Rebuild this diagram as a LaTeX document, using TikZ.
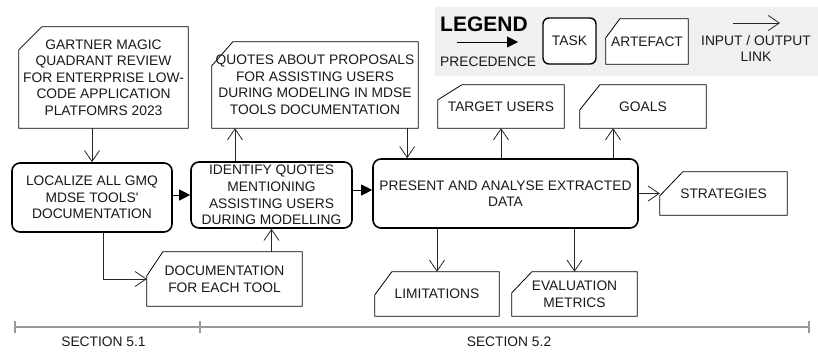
\documentclass[tikz,border=0pt]{standalone}
\usepackage{fontspec}
\setmainfont{Liberation Sans}
\usetikzlibrary{arrows.meta, positioning, calc}
\pgfdeclarelayer{background}
\pgfsetlayers{background,main}

\begin{document}
\begin{tikzpicture}[x=1pt, y=-1pt,
    every node/.style={font=\fontsize{13.8}{16.5}\selectfont, align=center, inner sep=0pt, text=black!90},
    task/.style={rectangle, draw, fill=white, line width=1.6pt, rounded corners=8pt},
    artefact/.style={rectangle},
    prec/.style={-{Triangle[length=11pt,width=11pt]}, line width=0.9pt},
    io/.style={-{Straight Barb[length=11pt,width=15pt]}, line width=0.8pt, black!85}]
    \useasboundingbox (0,0) rectangle (818,352);

    \node [artefact, minimum width=169pt, minimum height=101pt] (gartner) at (103.5,77.5) {GARTNER MAGIC\\QUADRANT REVIEW\\FOR ENTERPRISE LOW-\\CODE APPLICATION\\PLATFOMRS 2023};
    \node [artefact, minimum width=206pt, minimum height=86pt] (quotes) at (315,85) {QUOTES ABOUT PROPOSALS\\FOR ASSISTING USERS\\DURING MODELING IN MDSE\\TOOLS DOCUMENTATION};
    \node [task, minimum width=160pt, minimum height=69pt] (localize) at (92,197.5) {LOCALIZE ALL GMQ\\MDSE TOOLS\textquotesingle\\DOCUMENTATION};
    \node [task, minimum width=161pt, minimum height=66pt] (identify) at (271.5,195) {IDENTIFY QUOTES\\MENTIONING\\ASSISTING USERS\\DURING MODELLING};
    \node [task, minimum width=265pt, minimum height=69pt] (present) at (505.5,193.5) {PRESENT AND ANALYSE EXTRACTED\\DATA};
    \node [artefact, minimum width=155pt, minimum height=54pt, text depth=-9pt] (docs) at (224.5,279) {DOCUMENTATION\\FOR EACH TOOL};
    \node [artefact, minimum width=126pt, minimum height=43pt] (target) at (501,106.5) {TARGET USERS};
    \node [artefact, minimum width=126pt, minimum height=43pt] (goals) at (643,106.5) {GOALS};
    \node [artefact, minimum width=127pt, minimum height=43pt] (strategies) at (723.5,193.5) {STRATEGIES};
    \node [artefact, minimum width=124pt, minimum height=44pt] (limits) at (437,294) {LIMITATIONS};
    \node [artefact, minimum width=125pt, minimum height=44pt] (metrics) at (574.5,294) {EVALUATION\\METRICS};

    \node [font=\fontsize{21}{24}\selectfont\bfseries, text=black, anchor=west] (legend) at (440,24) {LEGEND};
    \node [anchor=west] (preclabel) at (440,62) {PRECEDENCE};
    \node [task, line width=1.4pt, rounded corners=6pt, minimum width=53pt, minimum height=46pt] (keytask) at (569.5,41) {TASK};
    \node [artefact, minimum width=82pt, minimum height=45pt] (keyart) at (647,41.5) {ARTEFACT};
    \node (iolabel) at (756,48.5) {INPUT / OUTPUT\\LINK};
    \coordinate (precA) at (457,42);
    \coordinate (precB) at (518,42);
    \coordinate (ioA) at (733,23);
    \coordinate (ioB) at (780,23);

    \begin{pgfonlayer}{background}
        \fill [black!6] (435,7) rectangle (818,76);
        \foreach \n/\cx/\cy in {gartner/23/23, quotes/21/24, docs/16/24, target/24/15, goals/20/25, strategies/23/24, limits/17/23, metrics/20/21, keyart/14/19}
            \filldraw [fill=white, line width=0.8pt] ([yshift=-\cy pt]\n.north west) -- ([xshift=\cx pt]\n.north west) -- (\n.north east) -- (\n.south east) -- (\n.south west) -- cycle;
    \end{pgfonlayer}

    \draw [prec] (precA) -- (precB);
    \draw [io] (ioA) -- (ioB);

    \draw [io] (gartner.south -| localize.north) -- (localize.north);
    \draw [prec] (localize.east |- identify.east) -- (identify.west);
    \draw [prec] ([yshift=5pt]identify.east) -- ([yshift=5pt]identify.east -| present.west);
    \draw [io] ([xshift=-36.5pt]identify.north) -- ([xshift=-36.5pt]identify.north |- quotes.south);
    \draw [io] ([xshift=-11pt]quotes.south east) -- ([xshift=-11pt]quotes.south east |- present.north);
    \draw [io] ([xshift=11pt]localize.south) |- (docs.west);
    \draw [io] (docs.north -| identify.south) -- (identify.south);
    \draw [io] (present.north -| target.south) -- (target.south);
    \draw [io] ([xshift=-30pt]goals.south |- present.north) -- ([xshift=-30pt]goals.south);
    \draw [io] (present.east) -- (strategies.west);
    \draw [io] (present.south -| limits.north) -- (limits.north);
    \draw [io] (present.south -| metrics.north) -- (metrics.north);

    \coordinate (s0) at (15,327);
    \coordinate (s1) at (200,327);
    \coordinate (s2) at (809,327);
    \draw [black!40, line width=1.3pt] (s0) -- (s2);
    \foreach \c in {s0, s1, s2}
        \draw [black!40, line width=1.3pt] ([yshift=6pt]\c) -- ([yshift=-6pt]\c);
    \node (sec1) at (103.5,342) {SECTION 5.1};
    \node (sec2) at (509,342) {SECTION 5.2};
\end{tikzpicture}
\end{document}
